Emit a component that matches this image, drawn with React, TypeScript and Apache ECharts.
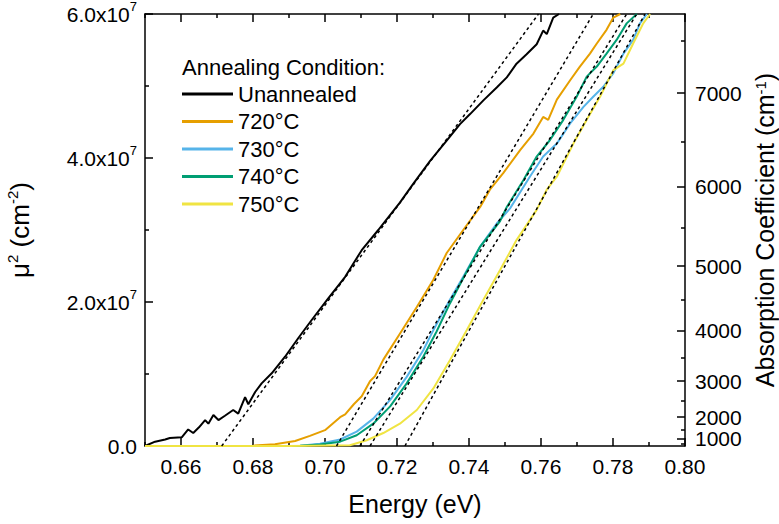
import React, { useEffect, useRef } from "react";
import * as echarts from "echarts";

const FONT = '"Liberation Sans", Arial, Helvetica, sans-serif';

// Energy (eV), mu^2 in units of 10^6 cm^-2
const unannealed: [number, number][] = [
  [0.650, 0.0], [0.6528, 0.6], [0.6556, 0.9], [0.6569, 1.1], [0.6602, 1.2], [0.6620, 2.3],
  [0.6634, 1.8], [0.6650, 2.6], [0.6667, 3.6], [0.6676, 3.1], [0.6690, 4.3], [0.6704, 3.6],
  [0.6722, 4.2], [0.6745, 5.0], [0.6759, 4.5], [0.6778, 6.8], [0.6787, 5.8], [0.6806, 7.5],
  [0.6824, 8.7], [0.6852, 10.1], [0.6889, 12.4], [0.6926, 15.0], [0.6963, 17.5], [0.7009, 20.5],
  [0.7056, 23.5], [0.7102, 27.2], [0.7148, 30.0], [0.7162, 30.9], [0.7208, 33.8], [0.7245, 36.4],
  [0.7292, 39.6], [0.7338, 42.4], [0.7375, 44.7], [0.7403, 46.1], [0.7440, 48.0], [0.7477, 49.8],
  [0.7505, 51.2], [0.7532, 53.1], [0.7560, 54.4], [0.7588, 55.8], [0.7606, 57.7], [0.7616, 57.2],
  [0.7634, 59.5], [0.7650, 60.0],
];
const anneal720: [number, number][] = [
  [0.650, 0], [0.670, 0], [0.680, 0.05], [0.6861, 0.25], [0.6917, 0.7], [0.6958, 1.4], [0.7000, 2.2],
  [0.7042, 4.0], [0.7056, 4.4], [0.7080, 5.8], [0.7102, 6.9], [0.7125, 9.0], [0.7139, 9.7],
  [0.7162, 12.0], [0.7208, 15.6], [0.7255, 19.3], [0.7301, 23.1], [0.7338, 26.8], [0.7384, 30.0],
  [0.7431, 33.2], [0.7458, 35.6], [0.7495, 37.9], [0.7542, 41.1], [0.7579, 43.4], [0.7606, 45.7],
  [0.7620, 45.3], [0.7644, 48.1], [0.7681, 50.8], [0.7708, 52.7], [0.7736, 54.5], [0.7755, 55.9],
  [0.7782, 57.8], [0.7801, 59.5], [0.7820, 60.0],
];
const anneal730: [number, number][] = [
  [0.650, 0], [0.680, 0], [0.6931, 0.05], [0.6986, 0.3], [0.7042, 0.9], [0.7088, 2.0], [0.7134, 3.8],
  [0.7181, 6.4], [0.7227, 9.6], [0.7273, 13.3], [0.7301, 16.1], [0.7347, 20.3], [0.7384, 23.5],
  [0.7431, 27.7], [0.7477, 30.9], [0.7514, 33.0], [0.7569, 37.4], [0.7606, 40.2], [0.7644, 42.0],
  [0.7681, 44.8], [0.7718, 47.1], [0.7745, 48.5], [0.7773, 49.9], [0.7801, 51.8], [0.7829, 54.5],
  [0.7856, 56.4], [0.7875, 58.7], [0.7894, 60.0],
];
const anneal740: [number, number][] = [
  [0.650, 0], [0.680, 0], [0.6931, 0.03], [0.6986, 0.2], [0.7042, 0.6], [0.7088, 1.5], [0.7134, 3.1],
  [0.7181, 5.5], [0.7227, 8.7], [0.7273, 12.4], [0.7310, 15.9], [0.7347, 19.8], [0.7384, 23.3],
  [0.7431, 27.7], [0.7486, 31.2], [0.7505, 33.2], [0.7551, 36.9], [0.7588, 40.2], [0.7625, 42.5],
  [0.7662, 45.3], [0.7699, 48.5], [0.7727, 51.3], [0.7755, 52.7], [0.7782, 54.5], [0.7810, 56.4],
  [0.7838, 58.7], [0.7866, 60.0],
];
const anneal750: [number, number][] = [
  [0.650, 0], [0.690, 0], [0.7069, 0.1], [0.7116, 0.8], [0.7162, 1.8], [0.7208, 3.1], [0.7255, 5.0],
  [0.7301, 8.0], [0.7347, 11.9], [0.7394, 16.1], [0.7440, 20.3], [0.7486, 24.4], [0.7532, 28.6],
  [0.7588, 32.8], [0.7616, 35.6], [0.7644, 37.4], [0.7690, 42.0], [0.7727, 45.3], [0.7764, 48.5],
  [0.7801, 52.2], [0.7829, 53.1], [0.7856, 55.9], [0.7884, 58.7], [0.7903, 60.0],
];

// Linear (Tauc) fits
const fitUnannealed: [number, number][] = [[0.6713, 0], [0.7593, 60]];
const fit720: [number, number][] = [[0.7032, 0], [0.7745, 60]];
const fit730: [number, number][] = [[0.7097, 0], [0.7838, 60]];
const fit740: [number, number][] = [[0.7125, 0], [0.7866, 60]];
const fit750: [number, number][] = [[0.7222, 0], [0.7889, 60]];

const seriesNames = ["Unannealed", "720°C", "730°C", "740°C", "750°C"];
const seriesColors = ["#000000", "#E69F00", "#56B4E9", "#009E73", "#F0E442"];
const seriesData = [unannealed, anneal720, anneal730, anneal740, anneal750];
const fits = [fitUnannealed, fit720, fit730, fit740, fit750];

const energyMajor = [0.66, 0.68, 0.70, 0.72, 0.74, 0.76, 0.78, 0.80];
const energyMinor = [0.65, 0.67, 0.69, 0.71, 0.73, 0.75, 0.77, 0.79];
const alphaMajor = [1000, 2000, 3000, 4000, 5000, 6000, 7000];
const alphaMinor = [500, 1500, 2500, 3500, 4500, 5500, 6500, 7500];

const E_MIN = 0.65;
const E_MAX = 0.8;
const MU_MAX = 60; // 6.0x10^7

const black = "#000";
const sup = (size: number) => ({
  fontSize: size,
  fontFamily: FONT,
  color: black,
  verticalAlign: "top" as const,
  lineHeight: size,
});

function xAxisDef(position: "top" | "bottom", values: number[], len: number, withLine: boolean, withLabel: boolean) {
  const a: any = {
    type: "value",
    min: E_MIN,
    max: E_MAX,
    position,
    axisLine: { show: withLine, onZero: false, lineStyle: { color: black, width: 1.5 } },
    axisTick: { show: true, inside: true, length: len, customValues: values, lineStyle: { color: black, width: 1.5 } },
    axisLabel: withLabel
      ? {
          show: true,
          customValues: values,
          formatter: (v: number) => v.toFixed(2),
          fontSize: 21,
          fontFamily: FONT,
          color: black,
          margin: 10,
          hideOverlap: false,
        }
      : { show: false },
    splitLine: { show: false },
  };
  if (withLabel) {
    a.name = "Energy (eV)";
    a.nameLocation = "middle";
    a.nameGap = 45;
    a.nameTextStyle = { fontSize: 25, fontFamily: FONT, color: black };
  }
  return a;
}

const option: any = {
  animation: false,
  backgroundColor: "#fff",
  grid: { left: 145, right: 94, top: 14, bottom: 78, containLabel: false, outerBoundsMode: "none" },
  title: {
    text: "Annealing Condition:",
    left: 182,
    top: 55,
    padding: 0,
    textStyle: { fontSize: 22, fontWeight: "normal", fontFamily: FONT, color: black, lineHeight: 24 },
  },
  legend: {
    data: seriesNames,
    orient: "vertical",
    left: 182,
    top: 83,
    padding: 0,
    icon: "rect",
    itemWidth: 51,
    itemHeight: 3,
    itemGap: 5.5,
    textStyle: { fontSize: 22, fontFamily: FONT, color: black, lineHeight: 22 },
    selectedMode: false,
  },
  xAxis: [
    xAxisDef("bottom", energyMajor, 8, true, true),
    xAxisDef("bottom", energyMinor, 4, false, false),
    xAxisDef("top", energyMajor, 8, true, false),
    xAxisDef("top", energyMinor, 4, false, false),
  ],
  yAxis: [
    {
      type: "value",
      min: 0,
      max: MU_MAX,
      interval: 20,
      position: "left",
      axisLine: { show: true, onZero: false, lineStyle: { color: black, width: 1.5 } },
      axisTick: { show: true, inside: true, length: 8, lineStyle: { color: black, width: 1.5 } },
      minorTick: { show: true, splitNumber: 2, length: 4, lineStyle: { color: black, width: 1.5 } },
      axisLabel: {
        formatter: (v: number) => (v === 0 ? "0.0" : `${(v / 10).toFixed(1)}x10{sup|7}`),
        fontSize: 21,
        fontFamily: FONT,
        color: black,
        margin: 8,
        lineHeight: 28,
        rich: { sup: sup(13) },
      },
      splitLine: { show: false },
      name: "μ{sup|2} (cm{sup|-2})",
      nameLocation: "middle",
      nameGap: 110,
      nameTextStyle: { fontSize: 26, fontFamily: FONT, color: black, lineHeight: 30, rich: { sup: sup(15) } },
    },
    {
      type: "value",
      min: 0,
      max: MU_MAX,
      position: "right",
      axisLine: { show: true, onZero: false, lineStyle: { color: black, width: 1.5 } },
      axisTick: {
        show: true,
        inside: true,
        length: 8,
        customValues: alphaMajor.map((a) => (a * a) / 1e6),
        lineStyle: { color: black, width: 1.5 },
      },
      axisLabel: {
        customValues: alphaMajor.map((a) => (a * a) / 1e6),
        formatter: (v: number) => String(Math.round(Math.sqrt(v * 1e6))),
        fontSize: 21,
        fontFamily: FONT,
        color: black,
        margin: 10,
        hideOverlap: false,
      },
      splitLine: { show: false },
      name: "Absorption Coefficient (cm{sup|-1})",
      nameLocation: "middle",
      nameGap: 67,
      nameTextStyle: { fontSize: 25, fontFamily: FONT, color: black, lineHeight: 25, rich: { sup: sup(15) } },
    },
    {
      type: "value",
      min: 0,
      max: MU_MAX,
      position: "right",
      axisLine: { show: false, onZero: false },
      axisTick: {
        show: true,
        inside: true,
        length: 4,
        customValues: alphaMinor.map((a) => (a * a) / 1e6),
        lineStyle: { color: black, width: 1.5 },
      },
      axisLabel: { show: false },
      splitLine: { show: false },
    },
  ],
  series: [
    ...seriesNames.map((name, i) => ({
      name,
      type: "line",
      data: seriesData[i],
      xAxisIndex: 0,
      yAxisIndex: 0,
      showSymbol: false,
      symbol: "none",
      color: seriesColors[i],
      lineStyle: { color: seriesColors[i], width: 2 },
      z: 2,
    })),
    ...fits.map((d, i) => ({
      name: "fit " + seriesNames[i],
      type: "line",
      data: d,
      xAxisIndex: 0,
      yAxisIndex: 0,
      showSymbol: false,
      symbol: "none",
      color: black,
      lineStyle: { color: black, width: 1.5, type: [3, 3] },
      z: 3,
    })),
  ],
};

export default function App() {
  const ref = useRef<HTMLDivElement>(null);
  useEffect(() => {
    if (!ref.current) return;
    const chart = echarts.init(ref.current, null, { renderer: "svg" });
    chart.setOption(option);
    return () => chart.dispose();
  }, []);
  return (
    <div
      ref={ref}
      style={{ position: "absolute", left: 0, top: 0, width: 779, height: 524, background: "#fff" }}
    />
  );
}
